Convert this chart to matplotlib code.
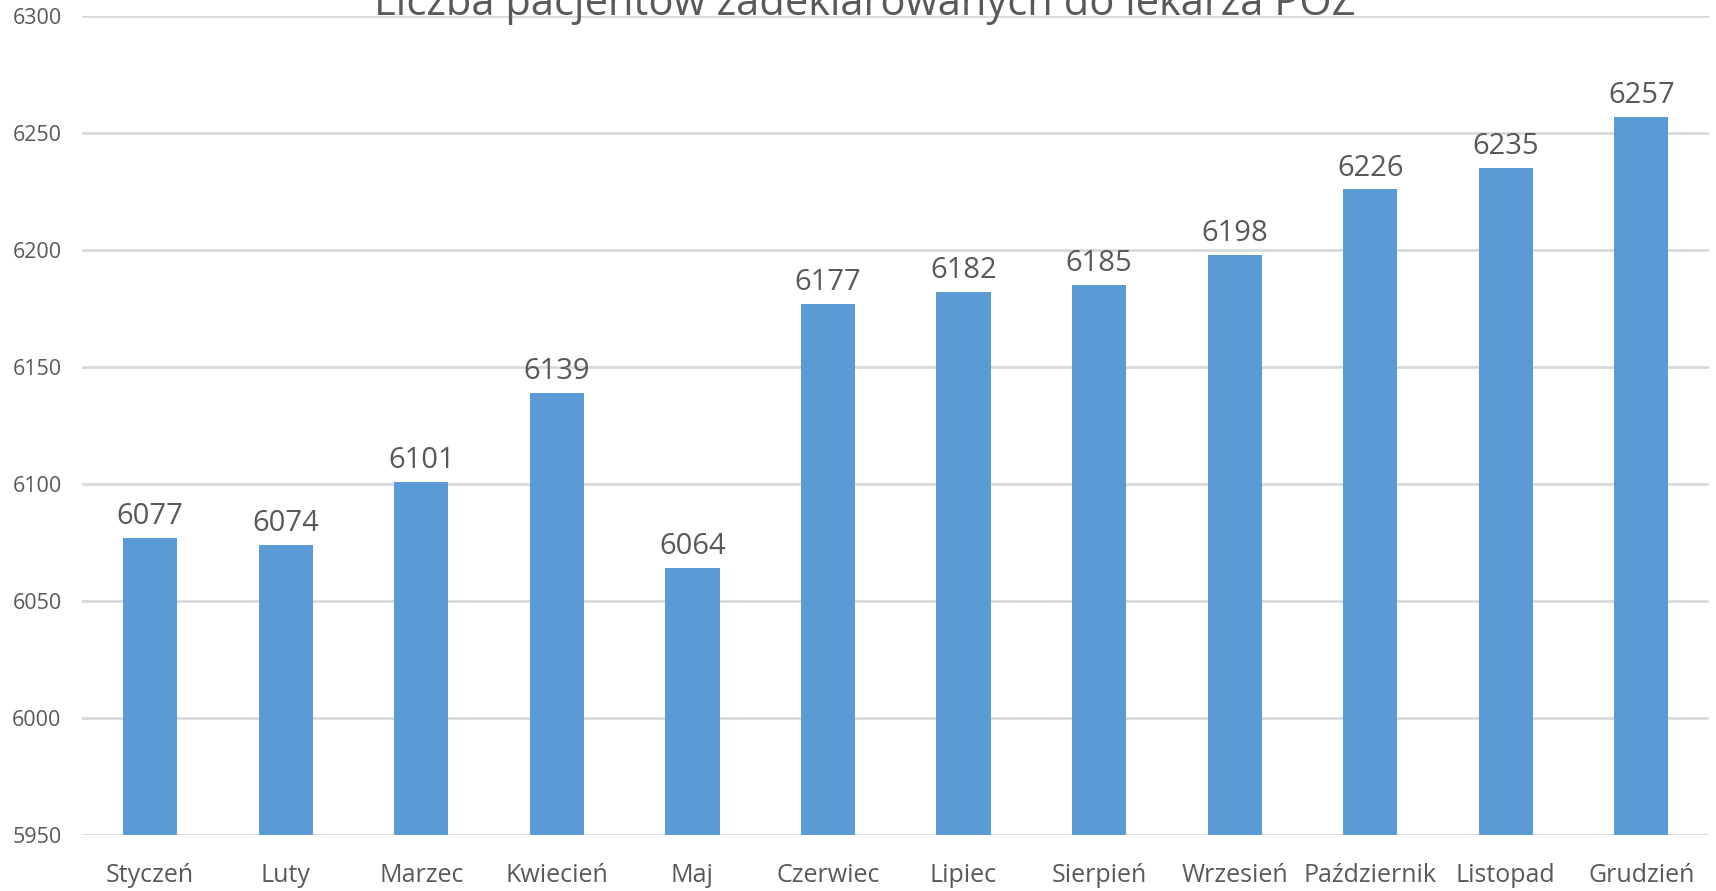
import matplotlib.pyplot as plt

months = ['Styczeń', 'Luty', 'Marzec', 'Kwiecień', 'Maj', 'Czerwiec', 'Lipiec',
          'Sierpień', 'Wrzesień', 'Październik', 'Listopad', 'Grudzień']
patients = [6077, 6074, 6101, 6139, 6064, 6177, 6182, 6185, 6198, 6226, 6235, 6257]
y_ticks = [5950, 6000, 6050, 6100, 6150, 6200, 6250, 6300]

TEXT = '#595959'
BAR = '#5B9BD5'
GRID = '#D9D9D9'

plt.rcParams['font.family'] = ['Open Sans', 'DejaVu Sans']

fig = plt.figure(figsize=(17.16, 8.91), dpi=100, facecolor='white')
ax = fig.add_axes([0.048, 0.0628, 0.948, 0.9188])

x = range(len(months))
bars = ax.bar(x, patients, width=0.4, color=BAR, zorder=2)

ax.set_ylim(5950, 6300)
ax.set_xlim(-0.5, len(months) - 0.5)
ax.set_yticks(y_ticks)
ax.set_xticks(list(x))
ax.set_xticklabels(months)

ax.grid(axis='y', color=GRID, linewidth=2, zorder=0)
for s in ax.spines.values():
    s.set_visible(False)
ax.tick_params(axis='both', length=0, colors=TEXT)
ax.tick_params(axis='x', labelsize=18, pad=20)
ax.tick_params(axis='y', labelsize=15.5, pad=15)

for b, v in zip(bars, patients):
    ax.annotate(str(v), xy=(b.get_x() + b.get_width() / 2, v),
                xytext=(0, 5), textcoords='offset points',
                ha='center', va='bottom', fontsize=21, color=TEXT)

fig.text(865 / 1716, 1 - 15 / 891, 'Liczba pacjentów zadeklarowanych do lekarza POZ',
         ha='center', va='baseline', fontsize=30, color=TEXT)

fig.savefig('out.png', dpi=100, facecolor='white')
